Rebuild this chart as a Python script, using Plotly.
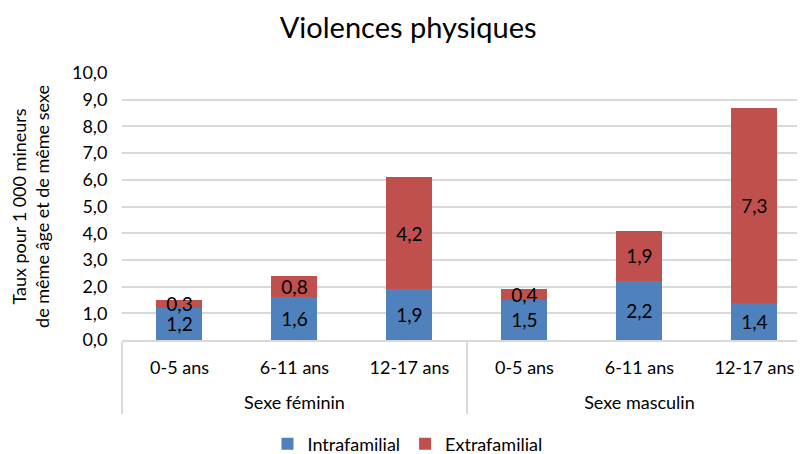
import plotly.graph_objects as go

sexes = ["Sexe féminin"] * 3 + ["Sexe masculin"] * 3
ages = ["0-5 ans", "6-11 ans", "12-17 ans"] * 2
intrafamilial = [1.2, 1.6, 1.9, 1.5, 2.2, 1.4]
extrafamilial = [0.3, 0.8, 4.2, 0.4, 1.9, 7.3]
y_ticks = [0, 1, 2, 3, 4, 5, 6, 7, 8, 9, 10]

# label text drawn at 18px inside a smaller axis font; blank lines before
# and after space the two label levels like the reference
LBL = '<span style="font-size:18px">{}</span>'
age_labels = [" <br>" + LBL.format(a) + "<br> " for a in ages]
sex_labels = [LBL.format(s) for s in sexes]

FONT = "Lato"
fig = go.Figure()
for name, vals, color in [("Intrafamilial", intrafamilial, "#4F81BD"),
                          ("Extrafamilial", extrafamilial, "#C0504D")]:
    fig.add_trace(go.Bar(
        x=[sex_labels, age_labels], y=vals, name=name,
        marker=dict(color=color, line=dict(width=0)),
        texttemplate="%{y:.1f}", textposition="inside", insidetextanchor="middle",
        textangle=0, constraintext="none",
        textfont=dict(size=19, color="black", family=FONT), cliponaxis=False,
    ))

fig.update_layout(
    barmode="stack",
    bargap=0.6,
    width=797, height=446,
    separators=", ",
    paper_bgcolor="white", plot_bgcolor="white",
    font=dict(family=FONT, size=18, color="#000000"),
    title=dict(text="Violences physiques", x=0.502, xanchor="center",
               y=0.955, yanchor="middle",
               font=dict(size=29, family=FONT, color="#000000")),
    margin=dict(l=114, r=0, t=65, b=114, autoexpand=False),
    uniformtext=dict(minsize=19, mode="show"),
    showlegend=True,
    legend=dict(orientation="h", x=0.418, xanchor="center",
                y=-0.39, yanchor="middle", font=dict(size=18, family=FONT),
                traceorder="normal"),
)
fig.update_xaxes(
    type="multicategory",
    range=[-0.5, 5.44],
    automargin=False,
    showline=True, linecolor="#D9D9D9", linewidth=1.5,
    showdividers=True, dividercolor="#D9D9D9", dividerwidth=1.5,
    tickfont=dict(size=13, family=FONT),
    tickangle=0,
    ticks="",
)
fig.update_yaxes(
    range=[0, 10],
    tickvals=y_ticks,
    tickformat=".1f",
    automargin=False,
    showgrid=True, gridcolor="#D9D9D9", gridwidth=1.5,
    zeroline=False,
    ticks="outside", ticklen=10, tickcolor="rgba(0,0,0,0)",
    tickfont=dict(size=18, family=FONT),
    title=dict(text="Taux pour 1 000 mineurs<br>de même âge et de même sexe",
               font=dict(size=18, family=FONT), standoff=19),
)

fig.write_html("out.html")
